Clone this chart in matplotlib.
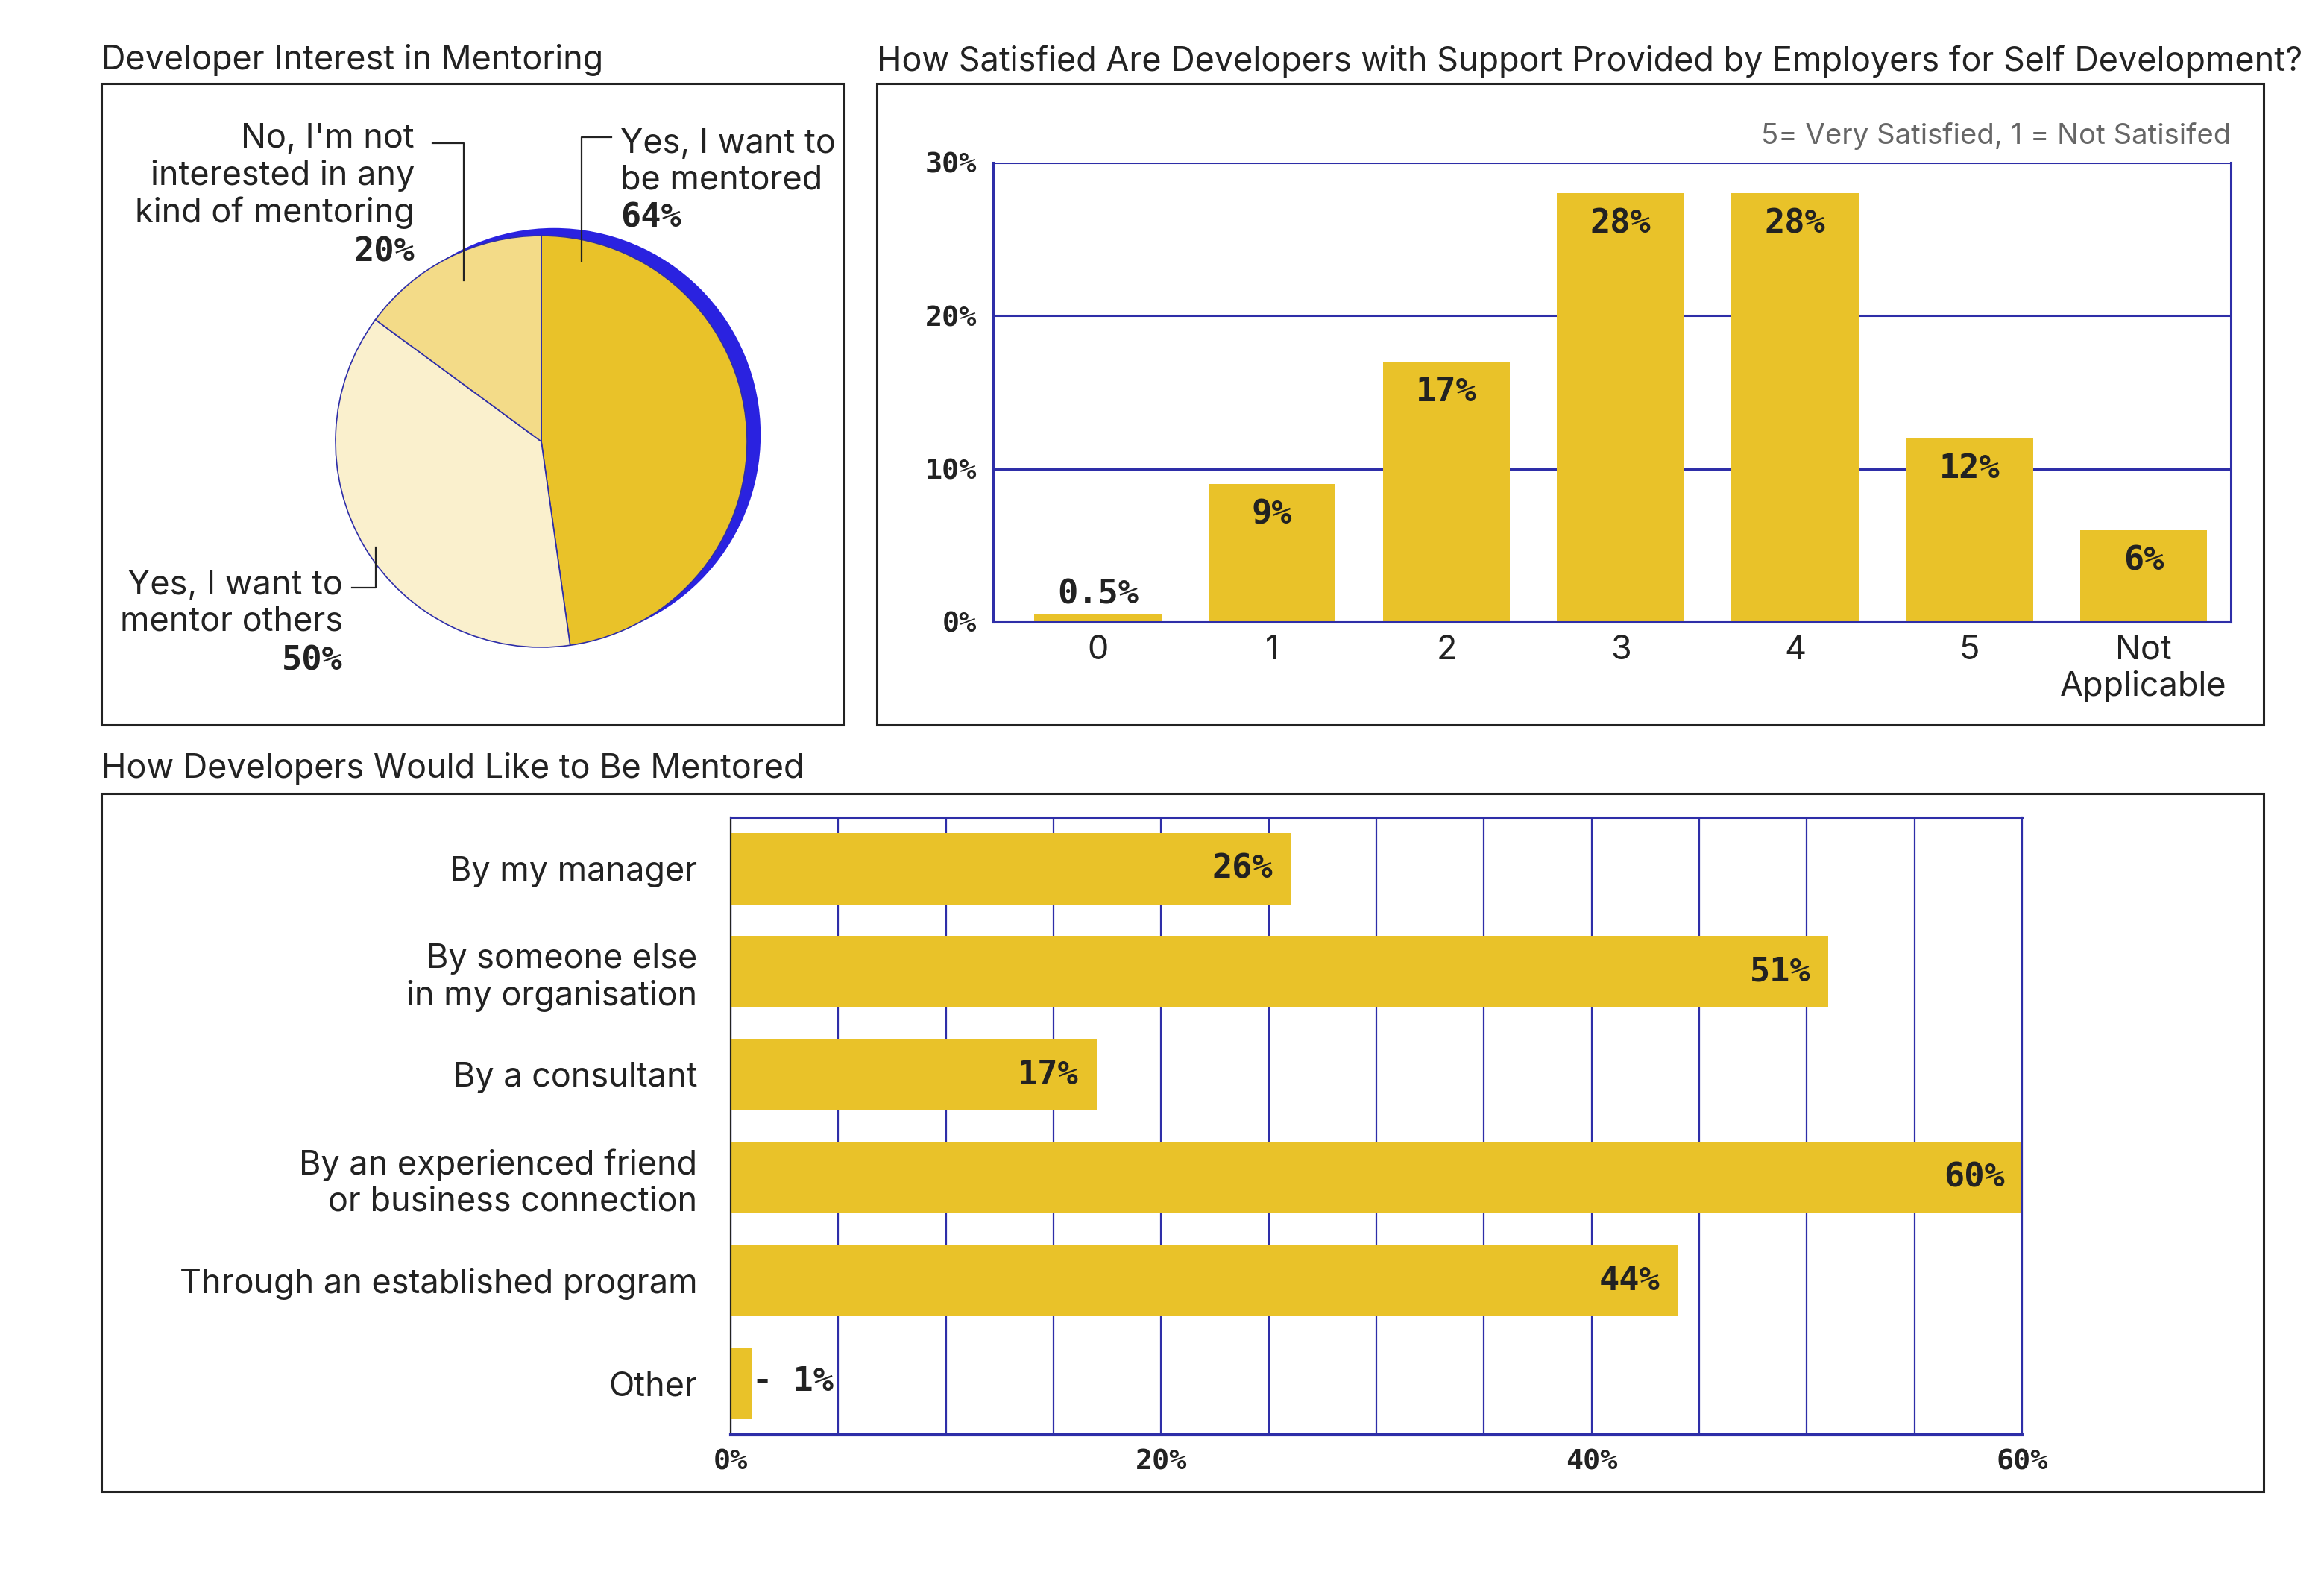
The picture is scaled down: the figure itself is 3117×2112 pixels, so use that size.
import matplotlib
matplotlib.use("Agg")
import matplotlib.pyplot as plt
from matplotlib.patches import Rectangle, Circle
from matplotlib.lines import Line2D

# ---------------- data ----------------
pie_labels = ["Yes, I want to\nbe mentored", "Yes, I want to\nmentor others",
              "No, I'm not\ninterested in any\nkind of mentoring"]
pie_values = [64, 50, 20]

sat_categories = ["0", "1", "2", "3", "4", "5", "Not\nApplicable"]
sat_values = [0.5, 9, 17, 28, 28, 12, 6]
sat_ticks = [0, 10, 20, 30]

ment_categories = ["By my manager", "By someone else\nin my organisation", "By a consultant",
                   "By an experienced friend\nor business connection",
                   "Through an established program", "Other"]
ment_values = [26, 51, 17, 60, 44, 1]
ment_ticks = [0, 20, 40, 60]

# ---------------- style ----------------
YELLOW = "#E9C229"
CREAM = "#FAF0CD"
LIGHTY = "#F3DB88"
BLUE = "#2A22E0"
NAVY = "#2E2EA8"
TXT = "#222222"
GRAY = "#666666"
FONT = ["Inter", "DejaVu Sans"]
MONO = ["DejaVu Sans Mono"]
FS = 16.2
NUM = 16.3
TICK = 13.8
plt.rcParams["font.family"] = FONT

W, H = 1558.5, 1056.0
fig = plt.figure(figsize=(3117 / 200, 2112 / 200), dpi=200)
fig.patch.set_facecolor("white")


def rect(l, t, r, b):
    return [l / W, 1 - b / H, (r - l) / W, (b - t) / H]


def frame(l, t, r, b):
    x, y, w, h = rect(l, t, r, b)
    fig.add_artist(Rectangle((x, y), w, h, transform=fig.transFigure, fill=False,
                             ec=TXT, lw=1.1, zorder=10))


# ---------------- titles & frames ----------------
fig.text(68 / W, 1 - 40 / H, "Developer Interest in Mentoring", fontsize=FS, color=TXT,
         ha="left", va="center")
fig.text(588 / W, 1 - 41 / H,
         "How Satisfied Are Developers with Support Provided by Employers for Self Development?",
         fontsize=FS, color=TXT, ha="left", va="center")
fig.text(68 / W, 1 - 515 / H, "How Developers Would Like to Be Mentored", fontsize=FS,
         color=TXT, ha="left", va="center")
frame(68, 56, 566, 486)
frame(588, 56, 1518, 486)
frame(68, 532, 1518, 1000)

# ---------------- pie ----------------
cx, cy, R = 363.0, 296.0, 138.0
axp = fig.add_axes(rect(68, 56, 566, 486))
axp.pie(pie_values, startangle=90, counterclock=False, colors=[YELLOW, CREAM, LIGHTY],
        radius=1, center=(0, 0),
        wedgeprops=dict(edgecolor=NAVY, linewidth=0.6))
axp.add_patch(Circle((0.062, 0.033), 1.004, color=BLUE, zorder=0.5, lw=0))
axp.set_aspect("auto")
axp.set_xlim((68 - cx) / R, (566 - cx) / R)
axp.set_ylim((cy - 486) / R, (cy - 56) / R)
axp.axis("off")


def P(x, y):
    return ((x - cx) / R, (cy - y) / R)


def leader(pts):
    xs = [P(*p)[0] for p in pts]
    ys = [P(*p)[1] for p in pts]
    axp.add_line(Line2D(xs, ys, color=TXT, lw=0.8, zorder=5))


# label blocks: (text position, alignment, percent position, leader points)
lab_specs = [
    (P(416, 108.5), "left", P(416, 146), [(410, 92), (390, 92), (390, 175)]),
    (P(230, 404.5), "right", P(230, 443), [(236, 394), (252, 394), (252, 367)]),
    (P(278, 118), "right", P(278, 169), [(290, 96), (311, 96), (311, 188)]),
]
for lab, val, (tpos, ha, ppos, lpts) in zip(pie_labels, pie_values, lab_specs):
    axp.text(*tpos, lab, ha=ha, va="center", fontsize=FS, color=TXT, linespacing=1.2)
    axp.text(*ppos, f"{val}%", ha=ha, va="center", fontsize=NUM, color=TXT,
             family=MONO, fontweight="bold")
    leader(lpts)

# ---------------- satisfaction bars ----------------
axb = fig.add_axes(rect(666, 109, 1496, 417))
xpos = list(range(len(sat_categories)))
axb.set_axisbelow(True)
axb.yaxis.grid(True, color=NAVY, lw=1.1)
bars = axb.bar(xpos, sat_values, width=0.73, color=YELLOW, zorder=2)
axb.set_xlim(-0.6, 6.5)
axb.set_ylim(0, 30)
axb.set_yticks(sat_ticks)
axb.set_yticklabels([f"{t}%" for t in sat_ticks], family=MONO, fontweight="bold",
                    fontsize=TICK, color=TXT)
axb.set_xticks(xpos)
axb.set_xticklabels(sat_categories, fontsize=FS, color=TXT, linespacing=1.2)
axb.tick_params(axis="both", length=0)
axb.tick_params(axis="y", pad=8)
axb.tick_params(axis="x", pad=6)
for s in ["left", "right"]:
    axb.spines[s].set_color(NAVY)
    axb.spines[s].set_linewidth(1.1)
axb.spines["top"].set_visible(False)
axb.spines["bottom"].set_color(NAVY)
axb.spines["bottom"].set_linewidth(1.1)
for b, v in zip(bars, sat_values):
    x = b.get_x() + b.get_width() / 2
    if v >= 3:
        axb.annotate(f"{v:g}%", (x, v), xytext=(0, -7), textcoords="offset points",
                     ha="center", va="top", family=MONO, fontweight="bold", fontsize=NUM,
                     color=TXT)
    else:
        axb.annotate(f"{v:g}%", (x, v), xytext=(0, 2), textcoords="offset points",
                     ha="center", va="bottom", family=MONO, fontweight="bold", fontsize=NUM,
                     color=TXT)
axb.text(1.0, 1.058, "5= Very Satisfied, 1 = Not Satisifed", transform=axb.transAxes,
         ha="right", va="center", fontsize=13.8, color=GRAY)

# ---------------- mentoring horizontal bars ----------------
axh = fig.add_axes(rect(490, 548, 1356, 962))
ypos = list(range(len(ment_categories)))
axh.set_axisbelow(True)
axh.set_xticks(list(range(0, 61, 5)), minor=True)
axh.xaxis.grid(True, which="minor", color=NAVY, lw=0.8)
axh.xaxis.grid(True, which="major", color=NAVY, lw=0.8)
hb = axh.barh(ypos, ment_values, height=0.7, color=YELLOW, zorder=2)
axh.set_xlim(0, 60)
axh.set_ylim(5.5, -0.5)
axh.set_xticks(ment_ticks)
axh.set_xticklabels([f"{t}%" for t in ment_ticks], family=MONO, fontweight="bold",
                    fontsize=TICK, color=TXT)
axh.set_yticks(ypos)
axh.set_yticklabels(ment_categories, fontsize=FS, color=TXT, linespacing=1.2)
axh.tick_params(axis="both", which="both", length=0)
axh.tick_params(axis="x", pad=6.5)
axh.tick_params(axis="y", pad=16)
axh.spines["left"].set_color(TXT)
axh.spines["left"].set_linewidth(0.8)
axh.spines["right"].set_color(NAVY)
axh.spines["right"].set_linewidth(0.8)
axh.spines["top"].set_color(NAVY)
axh.spines["top"].set_linewidth(1.1)
axh.spines["bottom"].set_color(NAVY)
axh.spines["bottom"].set_linewidth(1.5)
for b, v in zip(hb, ment_values):
    y = b.get_y() + b.get_height() / 2
    if v >= 5:
        axh.annotate(f"{v:g}%", (v, y), xytext=(-8.5, 0), textcoords="offset points",
                     ha="right", va="center", family=MONO, fontweight="bold", fontsize=NUM,
                     color=TXT)
    else:
        axh.annotate(f"- {v:g}%", (v, y), xytext=(0, 1), textcoords="offset points",
                     ha="left", va="center", family=MONO, fontweight="bold", fontsize=NUM,
                     color=TXT)

fig.savefig("out.png", dpi=200, facecolor="white")
